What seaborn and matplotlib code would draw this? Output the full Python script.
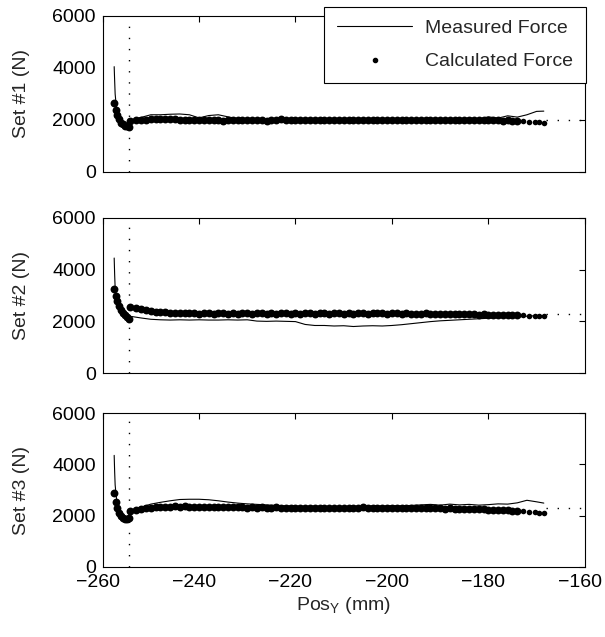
import matplotlib
matplotlib.use('Agg')
import matplotlib.pyplot as plt
import matplotlib.transforms as mtransforms
from matplotlib.lines import Line2D
import seaborn as sns

sns.set_style('white')
plt.rcParams['font.family'] = ['Liberation Sans', 'DejaVu Sans']
plt.rcParams['mathtext.fontset'] = 'custom'
plt.rcParams['mathtext.rm'] = 'Liberation Sans'

# ---- data ----
panel_labels = ['Set #1 (N)', 'Set #2 (N)', 'Set #3 (N)']

# measured force, x positions (mm)
meas_x = [-257.6, -257.5, -257.4, -257.2, -257.0, -256.5, -256.0, -255.5, -255.0, -254.6,
          -254.4, -252, -250, -248, -246, -244, -242, -240, -238, -236,
          -234, -232, -230, -228, -226, -224, -222, -220, -218, -216,
          -214, -212, -210, -208, -206, -204, -202, -200, -198, -196,
          -194, -192, -190, -188, -186, -184, -182, -180, -178, -176,
          -174, -172, -170, -168.5]

meas_1 = [4050, 3500, 3000, 2600, 2350, 2100, 1980, 1900, 1830, 1780,
          1980, 2100, 2200, 2200, 2220, 2230, 2200, 2080, 2170, 2200,
          2120, 2050, 2020, 2000, 2010, 1990, 2010, 2000, 1990, 2000,
          2010, 1990, 2000, 2010, 1990, 2000, 2010, 1990, 2000, 2010,
          2000, 2020, 2000, 2030, 2010, 2080, 2040, 2120, 2070, 2160,
          2110, 2200, 2330, 2340]
meas_2 = [4450, 3800, 3300, 3000, 2800, 2500, 2350, 2200, 2050, 1950,
          2200, 2130, 2080, 2060, 2050, 2060, 2050, 2060, 2050, 2050,
          2060, 2050, 2060, 2010, 2000, 2010, 2000, 1990, 1880, 1840,
          1840, 1820, 1830, 1800, 1820, 1830, 1820, 1840, 1870, 1910,
          1950, 1990, 2020, 2040, 2060, 2080, 2100, 2120, 2140, 2160,
          2170, 2200, 2220, 2220]
meas_3 = [4350, 3700, 3200, 2800, 2500, 2200, 2000, 1900, 1870, 1900,
          2200, 2330, 2450, 2520, 2580, 2630, 2640, 2640, 2620, 2580,
          2530, 2490, 2460, 2440, 2420, 2400, 2380, 2370, 2360, 2370,
          2350, 2360, 2350, 2370, 2360, 2380, 2370, 2390, 2380, 2400,
          2420, 2440, 2410, 2450, 2420, 2440, 2410, 2430, 2460, 2450,
          2500, 2600, 2540, 2490]

# calculated force, x positions (mm); last five are the sparse end points
calc_x = [-257.6, -257.3, -257.0, -256.6, -256.2, -255.8, -255.4, -255.0, -254.6,
          -254.4,
          -253, -252, -251, -250, -249, -248, -247, -246, -245, -244,
          -243, -242, -241, -240, -239, -238, -237, -236, -235, -234,
          -233, -232, -231, -230, -229, -228, -227, -226, -225, -224,
          -223, -222, -221, -220, -219, -218, -217, -216, -215, -214,
          -213, -212, -211, -210, -209, -208, -207, -206, -205, -204,
          -203, -202, -201, -200, -199, -198, -197, -196, -195, -194,
          -193, -192, -191, -190, -189, -188, -187, -186, -185, -184,
          -183, -182, -181, -180, -179, -178, -177, -176, -175, -174,
          -172.8, -171.6, -170.4, -169.4, -168.5]

calc_1 = [2650, 2400, 2200, 2020, 1900, 1830, 1780, 1750, 1720,
          1950,
          1980, 2000, 2010, 2030, 2040, 2050, 2040, 2030, 2020, 2000,
          1990, 2000, 1980, 1990, 2000, 1980, 2000, 1990, 1970, 1990,
          2010, 1980, 2000, 1990, 1980, 2000, 1990, 1970, 1990, 2000,
          2020, 2000, 1990, 2010, 1990, 2000, 1980, 2000, 1990, 2010,
          2000, 1990, 2010, 1990, 2000, 2010, 1990, 2000, 1980, 1990,
          2000, 2010, 1990, 2000, 1990, 2010, 2000, 1990, 2000, 2010,
          1990, 2000, 2010, 1990, 2000, 1990, 2000, 2010, 1990, 2000,
          1990, 2000, 1980, 1990, 1980, 1990, 1970, 1980, 1970, 1960,
          1950, 1940, 1920, 1910, 1900]
calc_2 = [3250, 3000, 2800, 2600, 2450, 2330, 2230, 2150, 2100,
          2570,
          2510, 2470, 2430, 2400, 2380, 2360, 2350, 2340, 2330, 2320,
          2310, 2320, 2310, 2300, 2320, 2310, 2300, 2310, 2320, 2300,
          2310, 2300, 2320, 2310, 2300, 2310, 2320, 2300, 2310, 2300,
          2310, 2320, 2300, 2310, 2300, 2320, 2310, 2300, 2310, 2320,
          2300, 2310, 2320, 2300, 2310, 2300, 2310, 2320, 2300, 2310,
          2320, 2310, 2300, 2310, 2320, 2300, 2310, 2300, 2290, 2300,
          2310, 2300, 2290, 2300, 2290, 2280, 2290, 2280, 2270, 2280,
          2270, 2260, 2270, 2260, 2250, 2260, 2250, 2240, 2250, 2240,
          2230, 2220, 2210, 2200, 2190]
calc_3 = [2900, 2550, 2300, 2100, 1970, 1900, 1860, 1870, 1920,
          2180,
          2230, 2260, 2280, 2300, 2320, 2330, 2340, 2350, 2360, 2350,
          2360, 2350, 2340, 2350, 2340, 2330, 2340, 2330, 2320, 2330,
          2320, 2330, 2320, 2310, 2320, 2310, 2320, 2300, 2310, 2320,
          2310, 2300, 2310, 2300, 2290, 2300, 2290, 2280, 2290, 2300,
          2290, 2300, 2310, 2300, 2310, 2300, 2310, 2320, 2310, 2300,
          2310, 2300, 2310, 2300, 2290, 2300, 2290, 2300, 2290, 2280,
          2290, 2280, 2290, 2280, 2270, 2280, 2270, 2260, 2270, 2260,
          2250, 2260, 2250, 2240, 2230, 2240, 2220, 2210, 2200, 2190,
          2170, 2150, 2130, 2110, 2090]

meas_sets = [meas_1, meas_2, meas_3]
calc_sets = [calc_1, calc_2, calc_3]

start_pos = -254.5                  # vertical dotted marker
steady_level = [2000, 2300, 2300]   # dotted extension at right
steady_from = -168.0

x_ticks = [-260, -240, -220, -200, -180, -160]
x_ticklabels = ['\u2212260', '\u2212240', '\u2212220', '\u2212200', '\u2212180', '\u2212160']
y_ticks = [0, 2000, 4000, 6000]

# ---- figure ----
fig = plt.figure(figsize=(6.05, 6.37), dpi=100)
boxes = [[0.1696, 0.730, 0.797, 0.245],
         [0.1696, 0.4144, 0.797, 0.2434],
         [0.1696, 0.1099, 0.797, 0.2417]]
fs = 14
dots = (0, (1, 7))
n_sparse = 5

for i in range(3):
    ax = fig.add_axes(boxes[i])
    sns.lineplot(x=meas_x, y=meas_sets[i], ax=ax, color='black', lw=0.8,
                 estimator=None, sort=False)
    # dense part of the calculated force forms a thick band
    sns.scatterplot(x=calc_x[:-n_sparse], y=calc_sets[i][:-n_sparse], ax=ax,
                    color='black', s=32, linewidth=0, legend=False, zorder=3)
    sns.scatterplot(x=calc_x[-n_sparse:], y=calc_sets[i][-n_sparse:], ax=ax,
                    color='black', s=16, linewidth=0, legend=False, zorder=3)
    ax.axvline(start_pos, color='black', lw=1, ls=dots)
    ax.hlines(steady_level[i], steady_from, -160, color='black', lw=1, linestyles=[dots])

    ax.set_xlim(-260, -160)
    ax.set_ylim(0, 6000)
    ax.set_xticks(x_ticks)
    ax.set_yticks(y_ticks)
    ax.tick_params(direction='in', top=True, right=True, length=4, width=0.8,
                   labelsize=fs, pad=5, colors='black')
    for s in ax.spines.values():
        s.set_color('black')
        s.set_linewidth(0.8)
    ax.set_ylabel(panel_labels[i], fontsize=fs)
    ax.yaxis.set_label_coords(-0.15, 0.5)
    if i < 2:
        ax.tick_params(labelbottom=False)
    else:
        ax.tick_params(axis='x', pad=5)
        ax.set_xticklabels(x_ticklabels)
        # labels sit a little left of their ticks, as in the original
        shift = mtransforms.ScaledTranslation(-0.05, 0, fig.dpi_scale_trans)
        for lab in ax.get_xticklabels():
            lab.set_transform(lab.get_transform() + shift)
        ax.set_xlabel('Pos$_\\mathregular{Y}$ (mm)', fontsize=fs, labelpad=3)

handles = [Line2D([], [], color='black', lw=0.8),
           Line2D([], [], color='black', ls='none', marker='o', markersize=3)]
fig.legend(handles, ['Measured Force', 'Calculated Force'], loc='upper left',
           bbox_to_anchor=(324 / 605, 1 - 7 / 637), fontsize=fs, frameon=True,
           fancybox=False, framealpha=1, edgecolor='black', handlelength=3.9,
           labelspacing=0.8, borderaxespad=0, borderpad=0.65, handletextpad=0.65)
fig.legends[0].get_frame().set_linewidth(0.8)

fig.savefig('out.png', dpi=100)
